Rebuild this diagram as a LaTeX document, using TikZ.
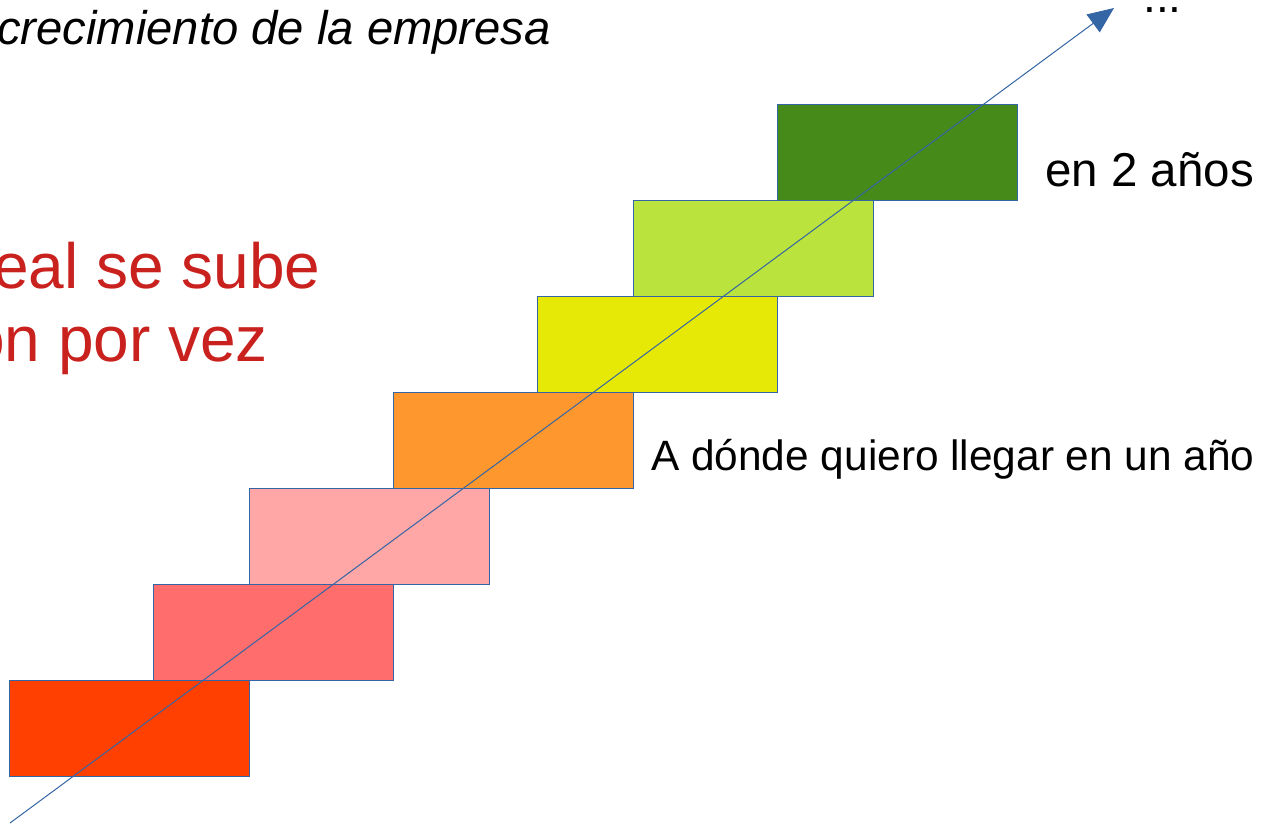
\documentclass[tikz,border=0pt]{standalone}
\usepackage{fontspec}
\setmainfont{Liberation Sans}
\usetikzlibrary{arrows.meta}
\definecolor{edge}{HTML}{3465A4}
\definecolor{c1}{HTML}{FF4000}
\definecolor{c2}{HTML}{FF6D6D}
\definecolor{c3}{HTML}{FFA6A6}
\definecolor{c4}{HTML}{FF972F}
\definecolor{c5}{HTML}{E6E905}
\definecolor{c6}{HTML}{BBE33D}
\definecolor{c7}{HTML}{468A1A}
\definecolor{redtxt}{HTML}{C9211E}
\tikzset{
  stair/.style={draw=edge, line width=1pt, minimum width=240pt, minimum height=96pt, inner sep=0pt, anchor=north west},
  lbl/.style={inner sep=0pt, anchor=base west, font=\fontsize{42.4}{50}\selectfont},
}
\begin{document}
\begin{tikzpicture}[x=1pt,y=-1pt]
\useasboundingbox (0,0) rectangle (1268,824);
\clip (0,0) rectangle (1268,824);
\node[stair, fill=c1] (s1) at (9,680) {};
\node[stair, fill=c2] (s2) at (153,584) {};
\node[stair, fill=c3] (s3) at (249,488) {};
\node[stair, fill=c4] (s4) at (393,392) {};
\node[stair, fill=c5] (s5) at (537,296) {};
\node[stair, fill=c6] (s6) at (633,200) {};
\node[stair, fill=c7] (s7) at (777,104) {};
\coordinate (a0) at (10,823);
\coordinate (a1) at (1114,8);
\draw[edge, line width=1pt, -{Triangle[length=26pt,width=22pt]}] (a0) -- (a1);
\node[lbl, font=\fontsize{47.2}{54}\selectfont\itshape] (t1) at (-3,45) {crecimiento de la empresa};
\node[lbl, font=\fontsize{46}{54}\selectfont] (t2) at (1143,13) {...};
\node[lbl, font=\fontsize{47.5}{54}\selectfont] (t3) at (1045,186) {en 2 años};
\node[lbl] (t4) at (651,470) {A dónde quiero llegar en un año};
\node[lbl, text=redtxt, font=\fontsize{64}{73}\selectfont] (t5) at (-7,288) {eal se sube};
\node[lbl, text=redtxt, font=\fontsize{64}{73}\selectfont] (t6) at (-31,361) {on por vez};
\end{tikzpicture}
\end{document}
